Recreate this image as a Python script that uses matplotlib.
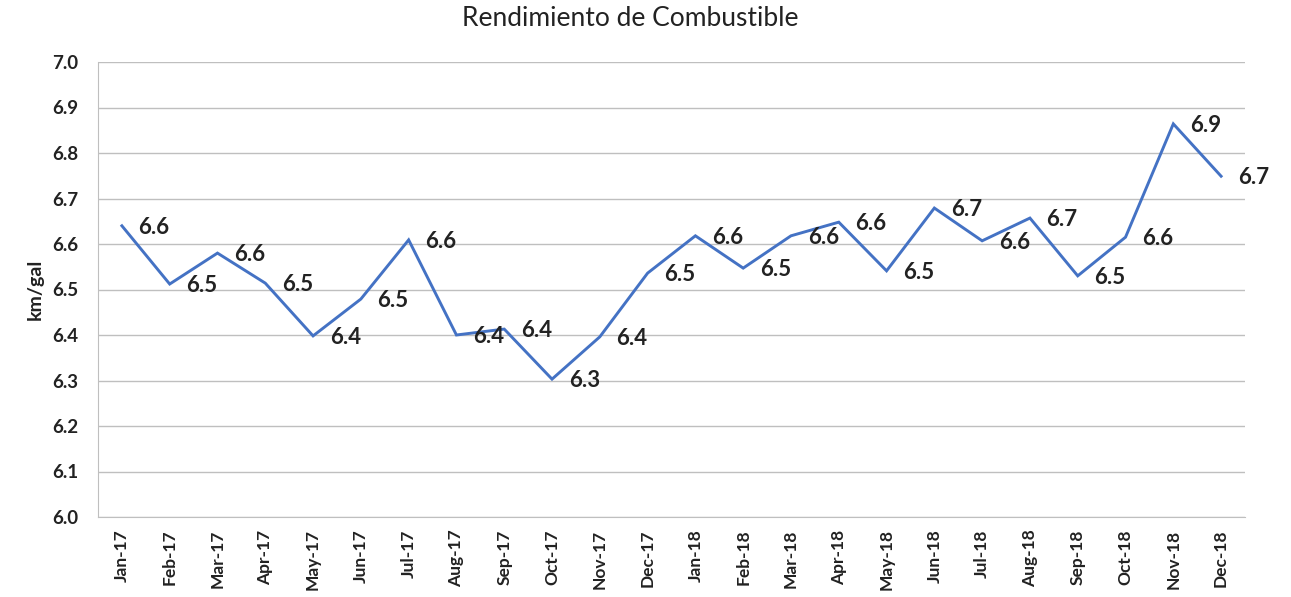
import matplotlib
matplotlib.use("Agg")
import matplotlib.pyplot as plt

months = ["Jan-17", "Feb-17", "Mar-17", "Apr-17", "May-17", "Jun-17", "Jul-17", "Aug-17",
          "Sep-17", "Oct-17", "Nov-17", "Dec-17", "Jan-18", "Feb-18", "Mar-18", "Apr-18",
          "May-18", "Jun-18", "Jul-18", "Aug-18", "Sep-18", "Oct-18", "Nov-18", "Dec-18"]
values = [6.640, 6.512, 6.580, 6.514, 6.398, 6.479, 6.609, 6.400,
          6.413, 6.303, 6.396, 6.536, 6.618, 6.547, 6.618, 6.648,
          6.541, 6.679, 6.607, 6.657, 6.530, 6.615, 6.864, 6.749]
yticks = [6.0, 6.1, 6.2, 6.3, 6.4, 6.5, 6.6, 6.7, 6.8, 6.9, 7.0]

plt.rcParams['font.family'] = ['Lato', 'DejaVu Sans']

fig = plt.figure(figsize=(12.91, 5.97), dpi=100)
ax = fig.add_axes([98/1291, 1-517/597, (1245-98)/1291, (517-62)/597])

x = list(range(len(months)))
ax.plot(x, values, color="#4472C4", linewidth=2.1, solid_joinstyle="miter")

for xi, v in zip(x, values):
    ax.annotate(f"{v:.1f}", (xi, v), xytext=(12, -1), textcoords="offset points",
                ha="left", va="center", fontsize=16, fontweight="bold", color="#222222")

ax.set_xlim(-0.5, len(months) - 0.5)
ax.set_ylim(6.0, 7.0)
ax.set_yticks(yticks)
ax.set_yticklabels([f"{t:.1f}" for t in yticks], fontsize=13.5, fontweight="bold", color="#222222")
ax.set_xticks(x)
ax.set_xticklabels(months, rotation=90, fontsize=12.5, fontweight="bold", color="#222222")
ax.tick_params(axis="y", length=0, pad=14)
ax.tick_params(axis="x", length=0, pad=9)

ax.grid(axis="y", color="#BFBFBF", linewidth=1.0)
ax.set_axisbelow(True)
for s in ["top", "right"]:
    ax.spines[s].set_visible(False)
ax.spines["left"].set_color("#BFBFBF")
ax.spines["bottom"].set_color("#BFBFBF")

ax.set_ylabel("km/gal", fontsize=14, fontweight="bold", color="#222222", labelpad=6)
fig.text(630/1291, 0.99, "Rendimiento de Combustible", ha="center", va="top",
         fontsize=19, color="#222222")

fig.savefig("out.png", dpi=100)
